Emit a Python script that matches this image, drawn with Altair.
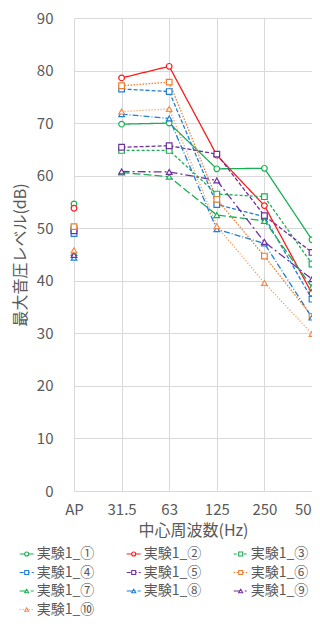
import altair as alt
import pandas as pd

freqs = ["AP", "31.5", "63", "125", "250", "500"]
series = ["実験1_①", "実験1_②", "実験1_③", "実験1_④", "実験1_⑤",
          "実験1_⑥", "実験1_⑦", "実験1_⑧", "実験1_⑨", "実験1_⑩"]

s1 = [54.6, 69.8, 70.0, 61.3, 61.4, 47.8]
s2 = [53.8, 78.6, 80.8, 63.9, 54.3, 37.6]
s3 = [49.9, 64.8, 64.8, 56.5, 56.0, 43.2]
s4 = [49.0, 76.5, 76.0, 54.5, 52.2, 36.5]
s5 = [49.5, 65.4, 65.7, 64.1, 52.4, 45.4]
s6 = [50.3, 77.1, 77.8, 55.5, 44.7, 33.2]
s7 = [45.3, 60.6, 59.8, 52.5, 51.4, 38.8]
s8 = [44.4, 71.7, 70.9, 49.8, 47.1, 33.0]
s9 = [44.9, 60.8, 60.7, 59.1, 47.4, 40.3]
s10 = [45.8, 72.2, 72.7, 50.4, 39.6, 29.9]
values = [s1, s2, s3, s4, s5, s6, s7, s8, s9, s10]

colors = ["#1AAF54", "#FF1A1A", "#1AAF54", "#1F80D6", "#7030A0",
          "#ED7D31", "#1AAF54", "#1F80D6", "#7030A0", "#F28C4E"]
shapes = ["circle", "circle", "square", "square", "square",
          "square", "triangle-up", "triangle-up", "triangle-up", "triangle-up"]
dashes = [[1, 0], [1, 0], [3, 2], [4, 2], [4, 2],
          [1.5, 1.5], [8, 3], [6, 2, 1, 2], [8, 3, 2, 3], [1, 2]]

rows = []
for name, vals in zip(series, values):
    for f, v in zip(freqs, vals):
        rows.append({"series": name, "freq": f, "value": v})
df = pd.DataFrame(rows)

leg = pd.DataFrame({"series": series,
                    "col": [i % 3 for i in range(len(series))],
                    "row": [i // 3 for i in range(len(series))]})

FONT = "Noto Sans CJK JP"
TXT = "#595959"

color_enc = alt.Color("series:N", scale=alt.Scale(domain=series, range=colors), legend=None)
shape_enc = alt.Shape("series:N", scale=alt.Scale(domain=series, range=shapes), legend=None)
dash_enc = alt.StrokeDash("series:N", scale=alt.Scale(domain=series, range=dashes), legend=None)

x_enc = alt.X("freq:O", sort=freqs, scale=alt.Scale(type="point", padding=0),
              axis=alt.Axis(title="中心周波数(Hz)", labelAngle=0, ticks=False, domain=False,
                            grid=True, gridColor="#D9D9D9", labelPadding=11,
                            labelOffset={"condition": {"test": "datum.value == '500'", "value": -5},
                                         "value": 0},
                            labelFontSize=15, titleFontSize=16, titlePadding=5,
                            labelFont=FONT, titleFont=FONT, labelColor=TXT,
                            titleColor=TXT, titleFontWeight="normal"))
y_enc = alt.Y("value:Q", scale=alt.Scale(domain=[0, 90], nice=False),
              axis=alt.Axis(title="最大音圧レベル(dB)", values=list(range(0, 91, 10)),
                            ticks=False, domain=False, grid=True, gridColor="#D9D9D9",
                            labelPadding=21, labelFontSize=15, titleFontSize=16,
                            titlePadding=8, labelFont=FONT, titleFont=FONT,
                            labelColor=TXT, titleColor=TXT, titleFontWeight="normal"))

lines = alt.Chart(df).mark_line(strokeWidth=1.3).encode(
    x=x_enc, y=y_enc, color=color_enc, strokeDash=dash_enc,
    order=alt.Order("series:N"),
).transform_filter(alt.datum.freq != "AP")

points = alt.Chart(df).mark_point(filled=False, fill="white", size=32, strokeWidth=1.2,
                                  opacity=1).encode(
    x=x_enc, y=y_enc, color=color_enc, shape=shape_enc,
)

main = alt.layer(lines, points)

lx = alt.X("col:Q", scale=alt.Scale(domain=[0, 2], range=[-47.3, 166.7]), axis=None)
ly = alt.Y("row:Q", scale=alt.Scale(domain=[0, 3], range=[536, 591.5]), axis=None)

leg_rule = alt.Chart(leg).mark_rule(xOffset=-7, x2Offset=7, strokeWidth=1.2).encode(
    x=lx, x2="col:Q", y=ly, color=color_enc, strokeDash=dash_enc)
leg_pt = alt.Chart(leg).mark_point(filled=False, fill="white", size=16, strokeWidth=1.1,
                                   opacity=1).encode(
    x=lx, y=ly, color=color_enc, shape=shape_enc)
leg_txt = alt.Chart(leg).mark_text(align="left", baseline="middle", dx=10, font=FONT,
                                   fontSize=14, color=TXT).encode(
    x=lx, y=ly, text="series:N")

legend = alt.layer(leg_rule, leg_pt, leg_txt)

chart = alt.layer(main, legend).resolve_scale(x="independent", y="independent").properties(
    width=238, height=473,
    autosize=alt.AutoSizeParams(type="none"),
    padding={"left": 66, "top": 10, "right": 0, "bottom": 126},
).configure_view(stroke=None)

chart.save("out.html", embed_options={"renderer": "svg", "actions": False})
